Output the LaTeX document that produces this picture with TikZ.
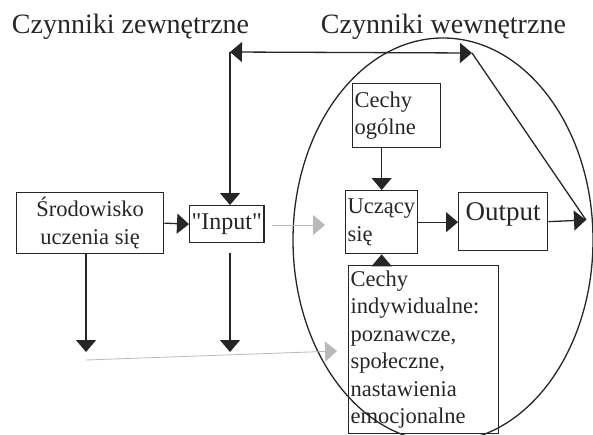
\documentclass[tikz,border=0pt]{standalone}
\usepackage{fontspec}
\setmainfont{Liberation Serif}
\usetikzlibrary{arrows.meta}

\tikzset{
  box/.style={draw, anchor=north west, inner sep=2pt, font=\fontsize{22.5}{27.4}\selectfont},
  arr/.style={-{Triangle[width=20pt,length=12pt]}},
  both/.style={{Triangle[width=20pt,length=12pt]}-{Triangle[width=20pt,length=12pt]}},
  faint/.style={gray!55, line width=0.8pt}
}

\begin{document}
\begin{tikzpicture}[x=1pt, y=-1pt, line width=1.3pt, black!85]
\useasboundingbox (0,0) rectangle (593,434);

\node[anchor=base west, font=\fontsize{28}{30}\selectfont] (zew) at (8,33) {Czynniki zewnętrzne};
\node[anchor=base west, font=\fontsize{28}{30}\selectfont] (wew) at (317,33) {Czynniki wewnętrzne};

\draw (443,240) ellipse [x radius=150pt, y radius=202pt];

\node[box, minimum width=147pt, minimum height=61pt, align=center] (srod) at (16,192) {Środowisko\\uczenia się};
\node[box, minimum width=74pt, minimum height=37pt, font=\fontsize{24}{26}\selectfont] (input) at (189,205) {\textquotedbl Input\textquotedbl};
\node[box, text width=68pt, minimum height=63pt, align=left] (ucz) at (345,190) {Uczący\\się};
\node[box, minimum width=89pt, minimum height=58pt, text depth=20pt, font=\fontsize{27}{29}\selectfont] (output) at (458,192) {Output};
\node[box, text width=84pt, minimum height=64pt, align=left] (ogol) at (352,83) {Cechy\\ogólne};
\node[box, text width=146pt, minimum height=168pt, align=left] (indiv) at (348,265) {Cechy\\indywidualne:\\poznawcze,\\społeczne,\\nastawienia\\emocjonalne};

\coordinate (tl) at (230,52);
\coordinate (tr) at (472,53);
\coordinate (oe) at (586,220);
\coordinate (s1) at (86,352);
\coordinate (i1) at (230,352);
\coordinate (g0) at (86,360);
\coordinate (g1) at (337,351);
\coordinate (u0) at (272,225);
\coordinate (u1) at (325,225);

\draw[arr] (srod.east) -- (input.west);
\draw[arr] (ucz.east) -- (ucz.east -| output.west);
\draw[arr] (output.east) -- (oe);
\draw[arr] (ogol.south -| ucz.north) -- (ucz.north);
\draw[arr] (indiv.north -| ucz.south) -- (ucz.south);

\draw[both] (tl) -- (tr);
\draw[arr] (tl) -- (tl |- input.north);
\draw (oe) -- (tr);

\draw[arr] (srod.south -| s1) -- (s1);
\draw[arr] ([yshift=-10pt]input.south -| i1) -- (i1);

\draw[faint, arr] (u0) -- (u1);
\draw[faint, arr] (g0) -- (g1);

\end{tikzpicture}
\end{document}
